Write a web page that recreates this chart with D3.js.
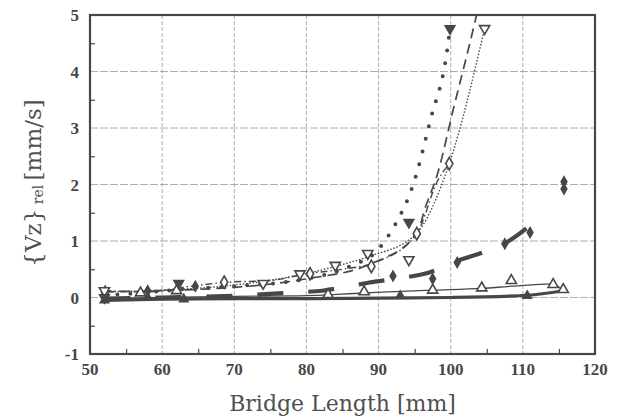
<!DOCTYPE html>
<html>
<head>
<meta charset="utf-8">
<script src="https://cdn.jsdelivr.net/npm/d3@7"></script>
<style>
  body { margin: 0; background: #fff; }
  svg { display: block; }
</style>
</head>
<body>
<script>
// axis ticks
var xTicks = [50, 60, 70, 80, 90, 100, 110, 120];
var yTicks = [-1, 0, 1, 2, 3, 4, 5];

// A: heavy dotted line, filled down triangles
var aX = [52, 57, 62.3, 70, 80, 86, 89.8, 91.2, 92.3, 94.8, 97.2, 99.5, 99.9];
var aY = [0.04, 0.08, 0.14, 0.2, 0.33, 0.55, 0.83, 1.06, 1.29, 2.0, 3.15, 4.37, 4.76];
var aMx = [52, 62.3, 94.2, 99.9];
var aMy = [0.0, 0.25, 1.33, 4.76];

// B: long dashed line
var bX = [52, 70, 80, 89, 95.3, 96.5, 98.2, 100.3, 103.4, 104.3];
var bY = [0.1, 0.18, 0.33, 0.6, 1.13, 1.6, 2.2, 3.3, 4.9, 5.4];

// C: fine dotted line, hollow down triangles
var cX = [52, 60, 70, 79.1, 84, 88.5, 95, 99.8, 104.7];
var cY = [0.1, 0.13, 0.22, 0.4, 0.55, 0.72, 1.1, 2.37, 4.76];
var cMx = [52, 74, 79.1, 84, 88.5, 94.2, 104.7];
var cMy = [0.12, 0.25, 0.42, 0.57, 0.78, 0.67, 4.76];

// D: dash-dot line, hollow diamonds
var dX = [52, 58, 64, 69, 75, 80, 85, 89.5, 95.3, 98.2, 99.8];
var dY = [0.12, 0.1, 0.2, 0.27, 0.3, 0.42, 0.5, 0.62, 1.13, 2.07, 2.37];
var dMx = [52.1, 68.6, 80.5, 89, 95.3, 99.8];
var dMy = [0.09, 0.27, 0.42, 0.55, 1.13, 2.37];

// E: heavy dashed line, filled diamonds
var eX = [52, 60, 70, 78.4, 82.2, 85.9, 89.5, 93.4, 96.9, 100.9, 104.5, 107.5, 112];
var eY = [-0.02, 0.0, 0.03, 0.09, 0.12, 0.2, 0.28, 0.35, 0.44, 0.65, 0.8, 0.96, 1.38];
var eMx = [58, 64.6, 92, 97.5, 100.9, 107.5, 111, 115.7, 115.7];
var eMy = [0.12, 0.2, 0.38, 0.33, 0.62, 0.95, 1.15, 1.92, 2.05];

// F: thin solid line, hollow triangles
var fX = [52, 60, 70, 79, 88, 97.4, 104.3, 108.4, 114.2, 115.6];
var fY = [-0.02, 0.0, 0.02, 0.03, 0.08, 0.13, 0.16, 0.2, 0.24, 0.11];
var fMx = [57, 62, 83, 88, 97.5, 104.3, 108.4, 114.2, 115.6];
var fMy = [0.08, 0.12, 0.05, 0.1, 0.13, 0.17, 0.3, 0.23, 0.14];

// G: thick solid line, small triangles
var gX = [52, 60, 70, 80, 90, 100, 110.6, 115.6];
var gY = [-0.05, -0.03, -0.02, -0.02, -0.01, 0.0, 0.04, 0.12];
var gMx = [52, 58, 63, 93, 110.6];
var gMy = [-0.05, 0.0, -0.03, 0.03, 0.03];

var ink = "#474747";
var margin = {left: 90, top: 15, right: 26, bottom: 65};
var W = 621, H = 419;
var w = W - margin.left - margin.right, h = H - margin.top - margin.bottom;

var svg = d3.select("body").append("svg").attr("width", W).attr("height", H);
var g = svg.append("g").attr("transform", "translate(" + margin.left + "," + margin.top + ")");

var x = d3.scaleLinear().domain([50, 120]).range([0, w]);
var y = d3.scaleLinear().domain([-1, 5]).range([h, 0]);

svg.append("defs").append("clipPath").attr("id", "clip")
  .append("rect").attr("width", w).attr("height", h);

// grid
g.append("g").selectAll("line").data(xTicks.slice(1, -1)).enter().append("line")
  .attr("x1", d => x(d)).attr("x2", d => x(d)).attr("y1", 0).attr("y2", h)
  .attr("stroke", "#999").attr("stroke-width", 0.8).attr("stroke-dasharray", "4,2");
g.append("g").selectAll("line").data(yTicks.slice(1, -1)).enter().append("line")
  .attr("y1", d => y(d)).attr("y2", d => y(d)).attr("x1", 0).attr("x2", w)
  .attr("stroke", "#999").attr("stroke-width", 0.8).attr("stroke-dasharray", "8,2");

// axes with minor ticks inside
var xAxis = d3.axisBottom(x).tickValues(d3.range(55, 120, 10)).tickSize(-5).tickFormat("");
var yAxis = d3.axisLeft(y).tickValues(d3.range(-0.5, 5, 1)).tickSize(-5).tickFormat("");
g.append("g").attr("transform", "translate(0," + h + ")").call(xAxis)
  .call(s => s.select(".domain").remove()).selectAll("line").attr("stroke", ink).attr("stroke-width", 1.2);
g.append("g").call(yAxis)
  .call(s => s.select(".domain").remove()).selectAll("line").attr("stroke", ink).attr("stroke-width", 1.2);

// tick labels
var tickFont = "'Liberation Serif', 'Times New Roman', serif";
g.append("g").selectAll("text").data(xTicks).enter().append("text")
  .attr("x", d => x(d)).attr("y", h + 21).attr("text-anchor", "middle")
  .style("font", "bold 17px " + tickFont).attr("fill", ink).text(d => d);
g.append("g").selectAll("text").data(yTicks).enter().append("text")
  .attr("x", -11).attr("y", d => y(d) + 6).attr("text-anchor", "end")
  .style("font", "bold 17px " + tickFont).attr("fill", ink).text(d => d);

// series
var plot = g.append("g").attr("clip-path", "url(#clip)");
function zip(xs, ys) { return xs.map((v, i) => [v, ys[i]]); }
var line = d3.line().x(d => x(d[0])).y(d => y(d[1])).curve(d3.curveMonotoneX);

function drawLine(xs, ys, width, dash, cap) {
  plot.append("path").datum(zip(xs, ys)).attr("d", line)
    .attr("fill", "none").attr("stroke", ink).attr("stroke-width", width)
    .attr("stroke-dasharray", dash).attr("stroke-linecap", cap || "butt");
}
function drawMarks(xs, ys, type, size, rot, filled) {
  plot.append("g").selectAll("path").data(zip(xs, ys)).enter().append("path")
    .attr("d", d3.symbol().type(type).size(size))
    .attr("transform", d => "translate(" + x(d[0]) + "," + y(d[1]) + ") rotate(" + rot + ")")
    .attr("fill", filled ? ink : "#fff").attr("stroke", ink).attr("stroke-width", 1.6);
}

drawLine(gX, gY, 3.2, null);
drawLine(fX, fY, 1.3, null);
drawLine(eX, eY, 4.2, "26,25");
drawLine(dX, dY, 1.4, "7,3,1.5,3");
drawLine(cX, cY, 1.4, "1.5,1.8");
drawLine(bX, bY, 1.7, "10,6");
drawLine(aX, aY, 4, "0,13", "round");

drawMarks(gMx, gMy, d3.symbolTriangle, 30, 0, true);
drawMarks(fMx, fMy, d3.symbolTriangle, 45, 0, false);
drawMarks(eMx, eMy, d3.symbolDiamond, 28, 0, true);
drawMarks(dMx, dMy, d3.symbolDiamond, 45, 0, false);
drawMarks(cMx, cMy, d3.symbolTriangle, 45, 180, false);
drawMarks(aMx, aMy, d3.symbolTriangle, 40, 180, true);

// frame
g.append("rect").attr("width", w).attr("height", h)
  .attr("fill", "none").attr("stroke", ink).attr("stroke-width", 2.2);

// titles
var titleFont = "'DejaVu Serif', serif";
svg.append("text").attr("x", margin.left + w / 2).attr("y", 411)
  .attr("text-anchor", "middle").style("font", "22px " + titleFont).attr("fill", "#505050")
  .text("Bridge Length [mm]");

var yt = svg.append("text").attr("transform", "translate(41,183) rotate(-90)")
  .attr("text-anchor", "middle").style("font", "23px " + titleFont).attr("fill", "#505050");
yt.append("tspan").text("{Vz}");
yt.append("tspan").style("font-size", "14px").attr("dy", 2).text(" rel ");
yt.append("tspan").attr("dy", -2).text("[mm/s]");
</script>
</body>
</html>
